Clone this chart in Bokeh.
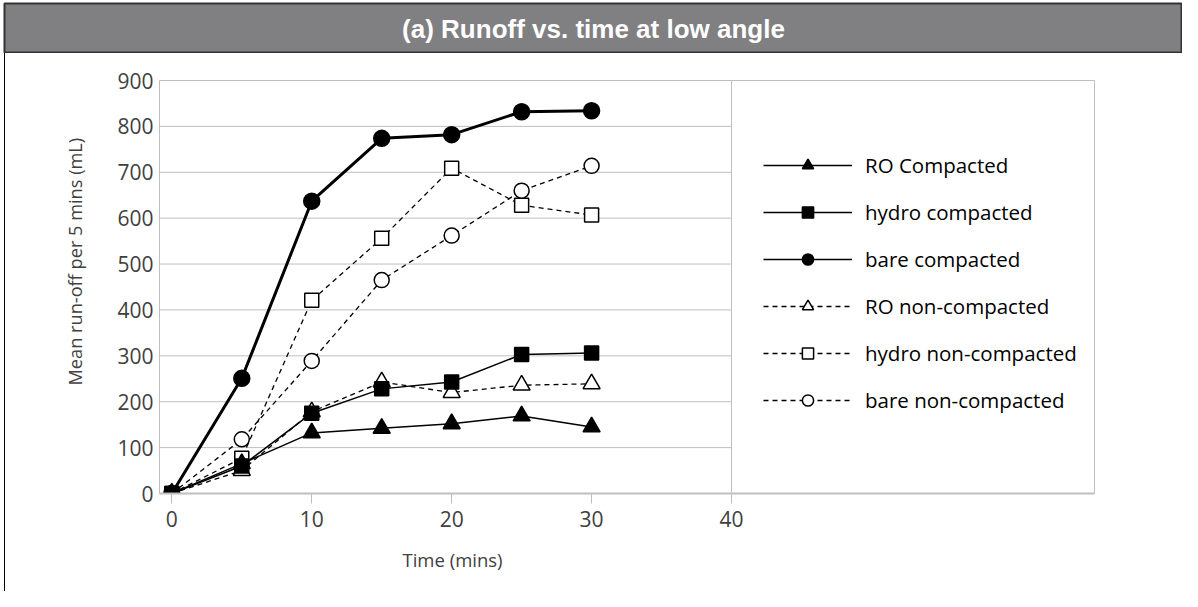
from bokeh.plotting import figure
from bokeh.models import Range1d, FixedTicker, Legend, LegendItem, Title
from bokeh.layouts import column
from bokeh.embed import file_html
from bokeh.resources import INLINE
from bokeh.core.properties import value

# ---------------- data ----------------
time_mins = [0, 5, 10, 15, 20, 25, 30]
ro_compacted = [0, 65, 132, 142, 152, 169, 145]
hydro_compacted = [0, 60, 175, 228, 243, 303, 306]
bare_compacted = [0, 251, 637, 774, 782, 832, 834]
ro_noncompacted = [0, 50, 178, 243, 220, 236, 239]
hydro_noncompacted = [0, 77, 421, 556, 709, 628, 607]
bare_noncompacted = [0, 118, 289, 465, 562, 660, 714]

series_names = ["RO Compacted", "hydro compacted", "bare compacted",
                "RO non-compacted", "hydro non-compacted", "bare non-compacted"]
x_ticks = [0, 10, 20, 30, 40]
y_ticks = [0, 100, 200, 300, 400, 500, 600, 700, 800, 900]
title_text = "(a) Runoff vs. time at low angle"
x_label = "Time (mins)"
y_label = "Mean run-off per 5 mins (mL)"

FONT = "Open Sans"
GRID = "#bfbfbf"
TXT = "#404040"

# ---------------- title bar ----------------
t = figure(width=1182, height=53, x_range=Range1d(0, 1), y_range=Range1d(0, 1),
           min_border_left=4, min_border_top=3, min_border_right=0, min_border_bottom=0,
           toolbar_location=None, output_backend="svg")
t.frame_align = False
t.axis.visible = False
t.grid.visible = False
t.background_fill_color = "#808083"
t.border_fill_color = "white"
t.outline_line_color = "#333333"
t.outline_line_width = 2
t.text(x=[0.5], y=[0.5], text=[title_text], text_align="center", text_baseline="middle",
       text_color="white", text_font=value("Liberation Sans"), text_font_style="bold",
       text_font_size="26px")

# ---------------- main chart ----------------
p = figure(width=1177, height=538, x_range=Range1d(-0.88, 65.94), y_range=Range1d(0, 900),
           min_border_left=154, min_border_right=88, min_border_top=27, min_border_bottom=98,
           toolbar_location=None, output_backend="svg")
p.frame_align = False
p.styles = {"margin-left": "4px", "border-left": "1px solid #000000"}
p.outline_line_color = GRID
p.outline_line_width = 1
p.grid.visible = False
p.background_fill_color = "white"
p.border_fill_color = "white"

# axes
p.xaxis.ticker = FixedTicker(ticks=x_ticks)
p.yaxis.ticker = FixedTicker(ticks=y_ticks)
p.xaxis.minor_tick_line_color = None
p.yaxis.minor_tick_line_color = None
p.xaxis.major_tick_in = 0
p.xaxis.major_tick_out = 10
p.xaxis.major_tick_line_color = GRID
p.yaxis.major_tick_in = 0
p.yaxis.major_tick_out = 0
p.xaxis.axis_line_color = GRID
p.xaxis.axis_line_width = 2
p.yaxis.axis_line_color = GRID
p.xaxis.major_label_standoff = 7
p.yaxis.major_label_standoff = 6
for ax in (p.xaxis, p.yaxis):
    ax.major_label_text_font = FONT
    ax.major_label_text_font_size = "21px"
    ax.major_label_text_color = TXT

# gridlines (only up to x=40) and the vertical line at 40
p.segment(x0=[p.x_range.start] * len(y_ticks), x1=[x_ticks[-1]] * len(y_ticks),
          y0=y_ticks, y1=y_ticks, line_color=GRID, line_width=1)
p.segment(x0=[x_ticks[-1]], x1=[x_ticks[-1]], y0=[y_ticks[0]], y1=[y_ticks[-1]],
          line_color=GRID, line_width=1)

specs = {
    "RO Compacted": (ro_compacted, "solid", 1.5, "triangle", 17, "black"),
    "hydro compacted": (hydro_compacted, "solid", 1.5, "square", 14, "black"),
    "bare compacted": (bare_compacted, "solid", 3, "circle", 16, "black"),
    "RO non-compacted": (ro_noncompacted, "5 4", 1.3, "triangle", 17, "white"),
    "hydro non-compacted": (hydro_noncompacted, "5 4", 1.3, "square", 14, "white"),
    "bare non-compacted": (bare_noncompacted, "5 4", 1.3, "circle", 15, "white"),
}
draw_order = ["RO non-compacted", "hydro non-compacted", "bare non-compacted",
              "RO Compacted", "bare compacted", "hydro compacted"]

rends = {}
for name in draw_order:
    ys, dash, lw, marker, size, fill = specs[name]
    lr = p.line(time_mins, ys, line_color="black", line_width=lw, line_dash=dash)
    sr = p.scatter(time_mins, ys, marker=marker, size=size, fill_color=fill,
                   line_color="black", line_width=1.5)
    rends[name] = [lr, sr]

# the legend draws every line at the same thin width (proxy with no visible point)
nan = float("nan")
legend_line = p.line(x=[nan], y=[nan], line_color="black", line_width=1.5)
rends["bare compacted"] = [legend_line, rends["bare compacted"][1]]

items = [LegendItem(label=name, renderers=rends[name]) for name in series_names]
legend = Legend(items=items, location=(604, 79), orientation="vertical",
                glyph_width=89, glyph_height=28, label_height=28, spacing=19,
                padding=0, margin=0, label_standoff=13,
                border_line_color=None, background_fill_alpha=0,
                label_text_font=FONT, label_text_font_size="20.5px",
                label_text_color="black")
p.add_layout(legend)

xt = Title(text=x_label, align="left", offset=243, standoff=31,
           text_font=FONT, text_font_size="18.5px", text_font_style="normal", text_color=TXT)
p.add_layout(xt, "below")
yt = Title(text=y_label, align="left", offset=108, standoff=55,
           text_font=FONT, text_font_size="18.2px", text_font_style="normal", text_color=TXT)
p.add_layout(yt, "left")

layout = column(t, p, spacing=0)
open("out.html", "w").write(file_html(layout, INLINE))
